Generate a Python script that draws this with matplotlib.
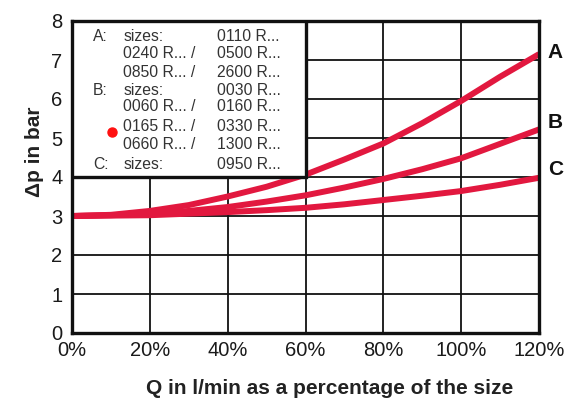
import matplotlib
matplotlib.use("Agg")
import matplotlib.pyplot as plt
from matplotlib.patches import Rectangle

plt.rcParams['font.family'] = ['Liberation Sans', 'DejaVu Sans']

# Data
q_percent = [0, 10, 20, 30, 40, 50, 60, 70, 80, 90, 100, 110, 120]
dp_A = [3.00, 3.03, 3.13, 3.28, 3.50, 3.75, 4.06, 4.45, 4.86, 5.38, 5.95, 6.57, 7.15]
dp_B = [3.00, 3.02, 3.06, 3.13, 3.23, 3.37, 3.53, 3.73, 3.95, 4.20, 4.48, 4.85, 5.22]
dp_C = [3.00, 3.01, 3.02, 3.06, 3.10, 3.15, 3.21, 3.30, 3.41, 3.52, 3.64, 3.80, 3.98]
curve_names = ["A", "B", "C"]
x_ticks = [0, 20, 40, 60, 80, 100, 120]
x_tick_labels = ["0%", "20%", "40%", "60%", "80%", "100%", "120%"]
y_ticks = [0, 1, 2, 3, 4, 5, 6, 7, 8]

legend_col1 = ["A:", "", "", "B:", "", "", "", "C:"]
legend_col2 = ["sizes:", "0240 R... /", "0850 R... /", "sizes:",
               "0060 R... /", "0165 R... /", "0660 R... /", "sizes:"]
legend_col3 = ["0110 R...", "0500 R...", "2600 R...", "0030 R...",
               "0160 R...", "0330 R...", "1300 R...", "0950 R..."]
legend_rows_y = [7.59, 7.17, 6.68, 6.21, 5.80, 5.29, 4.84, 4.33]

RED = '#e2183f'

fig = plt.figure(figsize=(5.73, 4.03), dpi=100)
ax = fig.add_axes([72/573, 1-333/403, (539-72)/573, (333-21)/403])

ax.set_xlim(0, 120)
ax.set_ylim(0, 8)
ax.set_xticks(x_ticks)
ax.set_xticklabels(x_tick_labels)
ax.set_yticks(y_ticks)
ax.tick_params(length=0, labelsize=14.5, colors='#1a1a1a')
ax.tick_params(axis='y', pad=7)
ax.tick_params(axis='x', pad=6)
ax.grid(True, color='#111111', linewidth=1.3)
ax.set_axisbelow(True)
for s in ax.spines.values():
    s.set_linewidth(2.4)
    s.set_color('#111111')

# Legend box
box = Rectangle((0, 4), 60, 4, facecolor='white', edgecolor='#111111',
                linewidth=2.4, zorder=3)
ax.add_patch(box)
for y, c1, c2, c3 in zip(legend_rows_y, legend_col1, legend_col2, legend_col3):
    ax.text(5.4, y, c1, fontsize=11.3, va='center', ha='left', color='#333333', zorder=4)
    ax.text(13.2, y, c2, fontsize=11.3, va='center', ha='left', color='#333333', zorder=4)
    ax.text(37.2, y, c3, fontsize=11.3, va='center', ha='left', color='#333333', zorder=4)
ax.plot([10.3], [5.16], 'o', color='#ff1010', markersize=6.5, zorder=5)

for vals, name, dy in zip([dp_A, dp_B, dp_C], curve_names, [0.05, 0.17, 0.2]):
    ax.plot(q_percent, vals, color=RED, linewidth=4.3, solid_capstyle='butt',
            solid_joinstyle='round', zorder=2.5)
    ax.text(122.3, vals[-1] + dy, name, fontsize=15, fontweight='bold',
            ha='left', va='center', color='#111111', clip_on=False)

fig.text(330/573, 1-388/403, "Q in l/min as a percentage of the size",
         fontsize=15, fontweight='bold', ha='center', va='center', color='#222222')
fig.text(35/573, 1-152/403, "Δp in bar", fontsize=15, fontweight='bold',
         rotation=90, ha='center', va='center', color='#222222')

fig.savefig("out.png", dpi=100)
